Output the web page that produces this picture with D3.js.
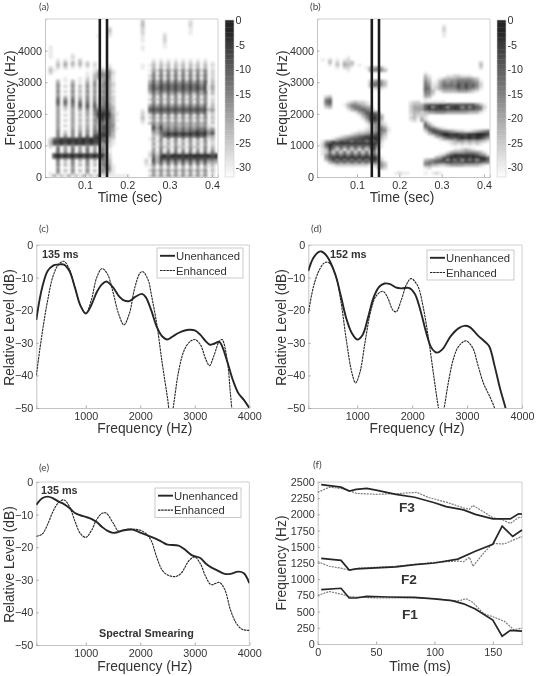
<!DOCTYPE html>
<html><head><meta charset="utf-8"><script src="https://cdn.jsdelivr.net/npm/d3@7"></script>
<style>html,body{margin:0;background:#fff}svg{display:block;font-family:"Liberation Sans",Arial,sans-serif;filter:blur(0.3px)}</style></head>
<body><svg id="c" width="537" height="676"></svg>
<script>
// Spectrogram darkness levels (0 white .. 9 black), rows top (5000 Hz) to bottom (0 Hz); segments: left syllable, gap, right syllable
const specA = [
"00000000000000000000 00000020 0000000000010000000","00000000000000000000 00000030 0000000000020000000","00000000000000000000 00000030 0000000000020000000",
"00000000000000000200 00000020 0000000000010000000","00000000000000000300 00000020 0000000000010000000","00000000000000000200 00000020 0000100000010000000",
"00000000000000100100 00000010 00002","00000000000000000000 00000010 00002","00000000000000000000 00000010 00002","  00001",
"01 00000010 00001","01 00000010","01","01000001","01000002",
"00010101020000000000  0101010101010101000","00020303030201000000  0202020202020202010","00030403030302000100 00000010 1303130313031303020",
"02020201010101010200 00000010 0303030303030303010","03100000000001232410  1425252525252525020","02000000000102454520  0505050505050505020",
"00000000000103455510  2626262626262626020","00000100010203344510  1505050505050505020","00030103010304045410  3737373737373737030",
"00040004010405046420  4747575757575747030","00050205030505155420  5858686868686858140","00040004020404045410  5868686868686868140",
"00050205030505155420  4747575757575747030","00040004020404045410  2636263626362636030","00050305030505155420  0505050505050505010",
"00060506040505155420  2525252525252525020","00070707060606156420  0505050505050505020","00060606070707256520  3636363636363636030",
"00040305060707366530  5757575757575757130","00040204040506677630 00000010 7878787878787878350","00040004020405788731 00000020 5757575757575757130",
"00040204030405898841 00000020 1505050505050505020","00040004020304697740 00000030 2525252525252525030","00040204030405486641 00000020 0404040404040404020",
"00040004020304465640 00000010 3535353535353535030","00040204030405377650  0737353535353535110","00040004030405377641  0848464646464656240",
"00050205040506477640  0637575757576868460","00050305050506688630  0436798989898989580","00050505060708888530  0315686868686868340",
"02678888889898976320  1405050505050505130","03889898989898867310  0315131513151315020","03778787888787745210  0404040404040404020",
"02050405040504054200  0315231523152315030","00060406040604064100  0405040504050405040","00060506050605064100  1516161616161616160",
"00898989898989896200  2627878988898989878","00797979797979785200  1738989898989898989","00060406040604065300 00000002 0838686868686868565",
"00050205020502055300 00000002 0737373737373737343","00050305030503056410 00000001 1505050505050505130","00040004000400045510  0303030303030303020",
"00050305030503054510  2525252525252525030","01040104010401043210  0404040404040404020","01413141314131412111 11100000 2525252525252525020"];
const specB = [
"","","  00000010","  00000020","  00000020","  00000010","  00000010","","","","","","","",
"00000000100000000000","01020101200000000000","00030203230000000000  0000000000000000200",
"00010304320100000000  0000000000000000300","00000102200001345410  0000000000000000200","00000000100000455530","  0100000000000000000",
"  0310000112211100000","  0420012333444432000","00000000000000245420  0530135455666654100","00000000000000366530  0641146565767665200",
"00000000000000365420  0651246666868675200","00000000000000012100  0762245555767654100","  0653013333444321000","  0552000000000000000",
"00230000000000000000  0430000000000000000","00560000000000000000  0100000000000000000","00670000123221000000 00000122 0111111000000000000",
"00560001355432100000 00000233 3677788877777775310","00230000356654400000 00000244 4795898589858587620","00000000135676510000 00000244 4788888888877776510",
"00000000001457765000 00000233 2344555444444333100","00000000000146887300 00000132 22","00000000000025897400 00000231 31","00000000000003787300 00000120 42",
"00000000000001465210  062","00000000000000245420  0752","00000000000001245641  0576421000000000000","00000000000112345651  0268876543221123456",
"00000000012334567530  0036789988877889998","00000012345678888420  0001468989898989987","00001345677888999310  0000024676898989864",
"01458687868786878200  0000000123443434321","02798989898989997100  0000000012121212100","02697575757575785100","01385250525052583000  0000000001123210000",
"01262626262626262000  0000000134445554310","01475757575757574000  0000012578888887541","00578989898989897100  0000347899899899986",
"00368686868686897200  0345678586858685897","00035757575757575420  0566777887778887765","00001222222222123530  0553322344443333210",
"00000000000000002420  012","   0212100","00000000000000000000 01211 0101210",""];
const barLevels = d3.range(0, -32.01, -0.5);
const barTicks = [0,-5,-10,-15,-20,-25,-30];
const specFreqTicks = [0,1000,2000,3000,4000];
const specTimeTicks = [0.1,0.2,0.3,0.4];
const markerTimes = [0.135,0.152];

const specFreqTicks2 = [1000,2000,3000,4000];
const levelTicks = [0,-10,-20,-30,-40,-50];
const cUnenh = [[92,-23],[150,-17],[200,-13],[300,-8],[400,-6.3],[500,-6],[600,-6],[700,-8],[800,-13],[900,-18.5],[1000,-21],[1100,-18.5],[1200,-14.5],[1300,-12],[1380,-11.2],[1500,-13],[1600,-15.5],[1700,-17],[1800,-17.2],[1900,-16],[2030,-15],[2100,-16],[2200,-20],[2300,-25],[2400,-28],[2500,-29],[2600,-28],[2700,-27],[2800,-26.3],[2900,-26],[3000,-26.2],[3100,-27.5],[3200,-29.5],[3280,-30.6],[3350,-30.3],[3450,-29.7],[3500,-31],[3600,-36],[3700,-41.5],[3800,-45.5],[3900,-47.5],[4000,-50]];
const cEnh = [[92,-40],[200,-27],[300,-17],[400,-9.5],[500,-6],[600,-5],[700,-7.5],[800,-13],[900,-18.5],[1000,-21],[1100,-17],[1200,-10],[1300,-7.2],[1400,-9],[1500,-14.5],[1600,-21],[1700,-24.5],[1800,-21],[1900,-13],[2000,-8.5],[2050,-8.2],[2150,-11],[2200,-15],[2300,-24],[2400,-36],[2500,-47],[2560,-54],[2620,-48],[2700,-39],[2800,-32.5],[2900,-29.8],[3000,-29],[3100,-30.5],[3200,-35],[3270,-37],[3350,-34],[3450,-29.5],[3500,-29],[3600,-36],[3650,-45],[3700,-54]];
const dUnenh = [[109,-8],[200,-4],[300,-2.1],[350,-2],[450,-3.5],[600,-9],[700,-15.5],[800,-22.5],[900,-27],[1000,-29],[1100,-27.5],[1200,-22],[1300,-16],[1400,-12.8],[1500,-11.8],[1600,-12],[1700,-13],[1800,-13.3],[1950,-13.2],[2050,-15],[2150,-20],[2250,-26.5],[2350,-31.5],[2450,-33],[2550,-32],[2700,-28],[2850,-25.5],[2950,-24.8],[3050,-25.2],[3200,-27.8],[3300,-29.3],[3400,-31],[3500,-37],[3600,-44],[3700,-50],[3750,-54]];
const dEnh = [[109,-21],[200,-13],[300,-8],[400,-5.5],[480,-5.4],[600,-9],[700,-17],[800,-29],[900,-39],[970,-42.3],[1050,-39],[1150,-29],[1250,-20],[1350,-15.5],[1470,-14.2],[1550,-16],[1650,-20],[1710,-20.5],[1800,-17],[1900,-12],[1980,-10.3],[2100,-12.5],[2200,-19],[2300,-29],[2400,-41],[2480,-50],[2520,-53],[2580,-50],[2650,-43],[2750,-35],[2850,-31],[2980,-29.4],[3100,-31.5],[3200,-37],[3300,-42.5],[3400,-46],[3500,-50],[3530,-52]];
const eUnenh = [[92,-7],[200,-5],[300,-4.5],[400,-5],[500,-6],[600,-6.8],[700,-8],[800,-9.5],[900,-10.2],[1000,-10.7],[1100,-11.3],[1200,-12.3],[1300,-13.8],[1400,-15],[1500,-15.6],[1600,-15.3],[1700,-14.8],[1850,-14.6],[2000,-15.5],[2200,-16.8],[2300,-17.5],[2400,-18.4],[2500,-19.2],[2700,-19.5],[2800,-20.5],[2950,-22.5],[3100,-23.3],[3200,-25],[3300,-26.2],[3400,-27],[3550,-28.2],[3650,-28.2],[3800,-27.5],[3900,-28],[4000,-31]];
const eEnh = [[92,-16.7],[200,-16],[300,-13],[400,-9],[500,-6.3],[600,-5.5],[700,-7.5],[800,-12],[900,-15.8],[1000,-17],[1100,-15],[1200,-11.5],[1300,-9.6],[1370,-9.5],[1500,-12.5],[1600,-15],[1750,-14.5],[1900,-14.5],[2000,-14.8],[2100,-15.8],[2200,-18],[2300,-23],[2400,-27],[2500,-28.5],[2650,-29],[2750,-28],[2900,-24],[3000,-23],[3100,-25],[3200,-29],[3300,-31.5],[3450,-30.8],[3550,-33],[3650,-39],[3750,-43],[3850,-45],[3950,-45.5],[4000,-45.5]];
const f3Solid = [[3,2460],[20,2420],[27,2360],[33,2385],[42,2400],[50,2375],[67,2310],[83,2265],[100,2180],[110,2120],[125,2070],[135,2000],[150,1930],[158,1930],[165,1930],[172,2010],[175,2005]];
const f3Dots = [[0,2340],[10,2420],[20,2400],[27,2370],[33,2325],[50,2310],[67,2320],[85,2340],[95,2260],[110,2190],[125,2100],[130,2080],[133,2140],[142,2040],[150,1950],[158,1920],[165,1860],[172,1950],[175,1960]];
const f2Solid = [[3,1320],[20,1290],[27,1140],[33,1160],[67,1190],[83,1225],[100,1250],[120,1310],[135,1430],[150,1540],[158,1820],[167,1660],[175,1760]];
const f2Dots = [[0,1270],[10,1200],[20,1170],[27,1140],[35,1170],[67,1200],[85,1230],[100,1260],[120,1280],[125,1270],[130,1340],[133,1200],[142,1400],[150,1550],[160,1545],[167,1600],[175,1660]];
const f1Solid = [[3,840],[20,860],[27,710],[33,710],[42,735],[60,725],[83,720],[100,695],[115,670],[125,620],[135,540],[150,370],[158,120],[165,210],[175,200]];
const f1Dots = [[0,750],[10,810],[20,770],[27,730],[50,710],[83,710],[100,700],[115,670],[122,670],[127,700],[133,640],[142,470],[150,420],[160,350],[168,220],[175,245]];
const trackFreqTicks = d3.range(0,2501,250);
const trackTimeTicks = [0,50,100,150];

const svg = d3.select("#c"), defs = svg.append("defs");
const INK="#262626", AX="#b5b5b5", TXT="#333333";
defs.append("filter").attr("id","soft").attr("x","-5%").attr("y","-5%").attr("width","110%").attr("height","110%")
  .append("feGaussianBlur").attr("stdDeviation",0.8);
const gray = d3.scaleLinear().domain([-32,-2]).range(["#ffffff","#252525"]);
const levelDb = d3.scaleLinear().domain([1,9]).range([-29,-2]);
let clipId=0;

function frame(x0,x1,y0,y1,xs,ys,xt,yt,xf,yf){
  const g=svg.append("g");
  const ax=g.append("g").attr("transform",`translate(0,${y1})`).call(d3.axisBottom(xs).tickValues(xt).tickFormat(xf||d3.format("d")).tickSize(-2.5).tickPadding(4.5));
  const ay=g.append("g").attr("transform",`translate(${x0},0)`).call(d3.axisLeft(ys).tickValues(yt).tickFormat(yf||d3.format("d")).tickSize(-2.5).tickPadding(3));
  [ax,ay].forEach(a=>{a.selectAll("path,line").attr("stroke",AX).attr("stroke-width",0.8);a.selectAll("text").attr("fill",TXT).attr("font-size",10.8).attr("font-family",'"Liberation Sans",Arial,sans-serif');a.selectAll("line").attr("stroke","#999");});
  return g;
}
function border(x0,x1,y0,y1){svg.append("path").attr("d",`M${x0},${y0}H${x1}V${y1}`).attr("fill","none").attr("stroke","#cfcfcf").attr("stroke-width",1);}
function title(x,y,t,size,anchor,rot,bold,fill){
  const e=svg.append("text").attr("x",x).attr("y",y).text(t).attr("font-size",size).attr("fill",fill||TXT).attr("text-anchor",anchor||"middle");
  if(rot) e.attr("transform",`rotate(-90 ${x} ${y})`);
  if(bold) e.attr("font-weight","bold");
  return e;
}
function panelTag(x,y,t){title(x,y,t,10,"start").attr("font-family","Lato").attr("fill","#444");}

function spectro(rows,x0,x1,cb0,tag,tagX,ylabX,timeX){
  const y0=19,y1=177;
  const t=d3.scaleLinear().domain([0.0054,0.4144]).range([x0,x1]);
  const f=d3.scaleLinear().domain([0,5000]).range([y1,y0]);
  const cols=47,dt=(0.4144-0.0054)/cols,df=5000/60;
  const parsed=rows.map(r=>{const p=r.split(" ");return (p[0]||"").padEnd(20,"0")+(p[1]||"").padEnd(8,"0")+(p[2]||"").padEnd(19,"0");});
  const id="cl"+(clipId++);
  defs.append("clipPath").attr("id",id).append("rect").attr("x",x0).attr("y",y0).attr("width",x1-x0).attr("height",y1-y0);
  const cells=[];
  parsed.forEach((s,r)=>{for(let c=0;c<cols;c++){const v=+s[c];if(v>0)cells.push({r,c,v});}});
  svg.append("g").attr("clip-path",`url(#${id})`).append("g").attr("filter","url(#soft)")
   .selectAll("rect").data(cells).join("rect")
    .attr("x",d=>t(0.0054+d.c*dt)).attr("width",d=>t(dt)-t(0)+0.3)
    .attr("y",d=>f(5000-d.r*df)).attr("height",d=>f(0)-f(df)+0.3)
    .attr("fill",d=>gray(levelDb(d.v)));
  frame(x0,x1,y0,y1,t,f,specTimeTicks,specFreqTicks,d3.format(".1f"));
  border(x0,x1,y0,y1);
  svg.append("g").selectAll("line").data(markerTimes).join("line")
    .attr("x1",d=>t(d)).attr("x2",d=>t(d)).attr("y1",y0).attr("y2",y1).attr("stroke","#1c1c1c").attr("stroke-width",2.6);
  const cb=d3.scaleLinear().domain([0,-32]).range([y0+1,y1]);
  svg.append("g").selectAll("rect").data(barLevels).join("rect")
    .attr("x",cb0).attr("width",9).attr("y",d=>cb(d)).attr("height",(cb(-1)-cb(0))/2+0.4)
    .attr("fill",d=>gray(Math.min(d,-2)));
  svg.append("rect").attr("x",cb0).attr("y",y0+1).attr("width",9).attr("height",y1-y0-1).attr("fill","none").attr("stroke","#cfcfcf").attr("stroke-width",0.6);
  svg.append("g").attr("transform",`translate(${cb0+9},0)`).call(d3.axisRight(cb).tickValues(barTicks).tickSize(0).tickPadding(1.5).tickFormat(d=>d===0?"0":"-"+(-d)))
    .call(a=>{a.select("path").remove();a.selectAll("text").attr("fill",TXT).attr("font-size",10.8).attr("font-family",'"Liberation Sans",Arial,sans-serif');});
  title(ylabX,98,"Frequency (Hz)",13.8,"middle",true);
  title(timeX,202,"Time (sec)",13.8);
  panelTag(tagX,10,tag);
}
spectro(specA,45,218,225,"(a)",39,15,130);
spectro(specB,317,490,497,"(b)",310,287,402);

function spectrum(un,en,x0,x1,y0,y1,fmin,lg,ms,msX,msY,tag,tagX,tagY,ylabX,xlabY){
  const x=d3.scaleLinear().domain([fmin,4000]).range([x0,x1]);
  const y=d3.scaleLinear().domain([0,-50]).range([y0,y1]);
  const id="cl"+(clipId++);
  defs.append("clipPath").attr("id",id).append("rect").attr("x",x0).attr("y",y0).attr("width",x1-x0).attr("height",y1-y0);
  frame(x0,x1,y0,y1,x,y,specFreqTicks2,levelTicks);
  border(x0,x1,y0,y1);
  const line=d3.line().x(d=>x(d[0])).y(d=>y(d[1])).curve(d3.curveCatmullRom.alpha(0.5));
  const g=svg.append("g").attr("clip-path",`url(#${id})`).attr("fill","none");
  g.append("path").attr("d",line(en)).attr("stroke",INK).attr("stroke-width",1.1).attr("stroke-dasharray","2.5,0.7");
  g.append("path").attr("d",line(un)).attr("stroke",INK).attr("stroke-width",1.9);
  svg.append("rect").attr("x",lg[0]).attr("y",lg[1]).attr("width",lg[2]).attr("height",lg[3]).attr("fill","#fff").attr("stroke","#bdbdbd").attr("stroke-width",0.8);
  const ly1=lg[1]+lg[3]*0.26, ly2=lg[1]+lg[3]*0.75;
  svg.append("line").attr("x1",lg[0]+3).attr("x2",lg[0]+18).attr("y1",ly1).attr("y2",ly1).attr("stroke",INK).attr("stroke-width",1.9);
  svg.append("line").attr("x1",lg[0]+3).attr("x2",lg[0]+18).attr("y1",ly2).attr("y2",ly2).attr("stroke",INK).attr("stroke-width",1.1).attr("stroke-dasharray","2.5,0.7");
  title(lg[0]+19,ly1+4,"Unenhanced",11.3,"start");
  title(lg[0]+19,ly2+4,"Enhanced",11.3,"start");
  title(msX,msY,ms,10.8,"start",false,true,"#333");
  title(ylabX,(y0+y1)/2+1,"Relative Level (dB)",13.8,"middle",true);
  title((x0+x1)/2+2,xlabY,"Frequency (Hz)",13.8);
  panelTag(tagX,tagY,tag);
}
spectrum(cUnenh,cEnh,36.3,249.3,245,408,92,[157,248,86,30],"135 ms",42,258,"(c)",39,232,14,433);
spectrum(dUnenh,dEnh,308.3,522,245,408,109,[427,250,87,30],"152 ms",330,258,"(d)",311,232,286,433);
spectrum(eUnenh,eEnh,36.3,249.3,482,645,92,[155,488,86,29.5],"135 ms",41,494,"(e)",39,471,14,671);
title(99,637,"Spectral Smearing",10.8,"start",false,true,"#333");

(function(){
  const x0=317.7,x1=522,y0=482,y1=644;
  const x=d3.scaleLinear().domain([0,175]).range([x0,x1]);
  const y=d3.scaleLinear().domain([0,2500]).range([y1,y0]);
  frame(x0,x1,y0,y1,x,y,trackTimeTicks,trackFreqTicks);
  border(x0,x1,y0,y1);
  const line=d3.line().x(d=>x(d[0])).y(d=>y(d[1]));
  const p=svg.append("g").attr("fill","none");
  [f3Dots,f2Dots,f1Dots].forEach(d=>p.append("path").attr("d",line(d)).attr("stroke","#7d7d7d").attr("stroke-width",1.2).attr("stroke-dasharray","2,1"));
  [f3Solid,f2Solid,f1Solid].forEach(d=>p.append("path").attr("d",line(d)).attr("stroke",INK).attr("stroke-width",1.7));
  title(407,512,"F3",13.7,"middle",false,true,"#333");
  title(409,584,"F2",13.7,"middle",false,true,"#333");
  title(410,619,"F1",13.7,"middle",false,true,"#333");
  title(286,563,"Frequency (Hz)",13.8,"middle",true);
  title(420,671,"Time (ms)",13.8);
  panelTag(313,468,"(f)");
})();
</script></body></html>
